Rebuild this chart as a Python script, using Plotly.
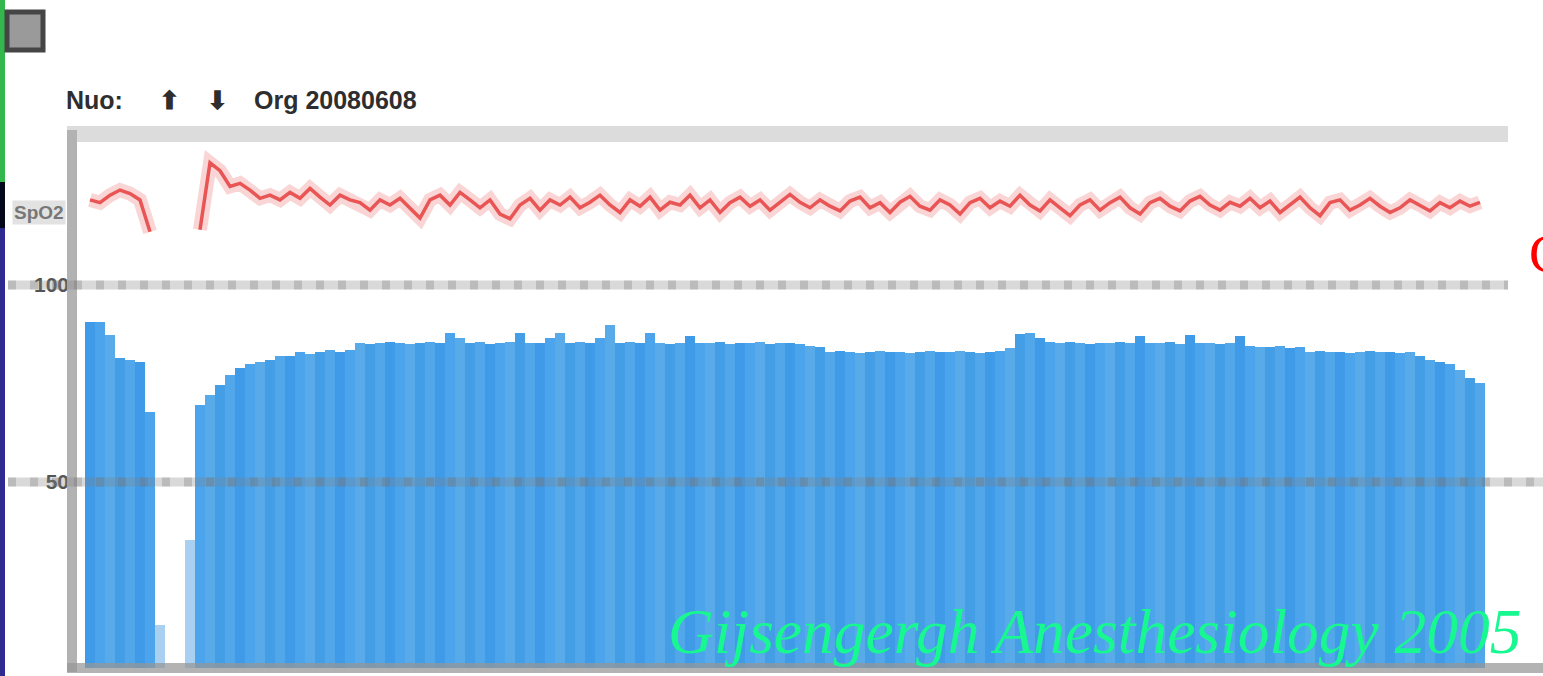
import plotly.graph_objects as go

# Pleth amplitude per beat column and the saturation trace above it
bar_values = [
    90.6, 90.6, 87.3, 81.5, 81.0, 80.5, 67.8, 13.7, 0, 0, 35.3,
    69.5, 72.1, 74.6, 77.2, 78.9, 79.9, 80.5, 81.0, 82.0, 82.0,
    83.0, 82.6, 83.0, 83.4, 83.0, 83.6,
    85.3, 85.0, 85.3, 85.6, 85.3, 85.0, 85.3, 85.6, 85.3,
    87.8, 86.5,
    85.3, 85.6, 85.0, 85.3, 85.6,
    87.8, 85.3, 85.3, 86.5, 87.8, 85.3, 85.6, 85.3, 86.5, 89.8,
    85.3, 85.6, 85.3, 87.8, 85.3, 85.0, 85.3, 87.0, 85.3,
    85.3, 85.6, 85.0, 85.3, 85.3, 85.6, 85.0, 85.3, 85.3, 85.0, 84.6, 84.3,
    83.0, 83.3, 83.0, 82.8, 83.0, 83.3, 83.0, 83.0, 82.8, 83.0,
    83.3, 83.0, 83.0, 83.3, 83.0, 82.8, 83.0, 83.3, 84.0,
    87.5, 87.8, 86.5,
    85.6, 85.3, 85.6, 85.3, 85.0, 85.3,
    85.3, 85.6, 85.3, 87.0, 85.3, 85.3, 85.6, 85.0, 87.3, 85.3, 85.3, 85.0, 85.3, 87.0,
    84.6, 84.3, 84.3, 84.6, 84.0, 84.3,
    83.0, 83.3, 83.0, 83.0, 82.8, 83.0, 83.3, 83.0, 83.0, 82.8, 83.0, 82.0,
    81.0, 80.5, 79.9, 78.4, 76.5, 75.1,
]

spo2_values = [
    121.6, 120.9, 122.8, 124.1, 123.2, 121.6, 113.5, None, None, None, None,
    114.0, 131.0, 129.0, 125.0, 125.8, 124.1, 122.0, 122.8, 121.6, 123.5,
    122.0, 124.5, 122.3, 120.3, 122.8, 121.6, 120.9, 119.0, 121.6, 120.3,
    122.0, 119.6, 117.0, 121.6, 122.8, 120.3, 123.5, 121.6, 119.6, 121.6,
    118.0, 116.8, 120.3, 122.0, 119.0, 121.6, 120.3, 122.3, 119.6, 121.0,
    122.8, 120.3, 118.4, 121.6, 120.0, 122.3, 119.0, 121.0, 120.3, 122.8,
    119.6, 121.6, 118.4, 120.9, 122.3, 120.0, 121.6, 119.0, 120.9, 123.0,
    121.0, 119.6, 121.6, 120.0, 118.8, 121.3, 122.3, 119.6, 120.9, 118.4,
    121.0, 122.5, 120.0, 119.0, 121.6, 120.3, 118.0, 120.9, 122.0, 119.6,
    121.3, 120.0, 122.8, 120.3, 118.8, 121.6, 119.6, 117.6, 120.3, 121.6,
    119.0, 120.9, 122.3, 119.6, 118.0, 120.9, 122.0, 120.0, 118.8, 121.3,
    122.5, 120.3, 119.0, 121.0, 120.0, 122.0, 119.6, 121.3, 118.4, 120.3,
    122.3, 119.6, 117.6, 120.9, 121.6, 119.0, 120.3, 122.0, 120.0, 118.4,
    119.6, 121.6, 120.3, 118.8, 120.9, 119.6, 121.3, 120.0, 121.0,
]

beats = list(range(len(bar_values)))

grid_values = [100, 50]
grid_labels = ["<b>100</b>", "<b>50</b>"]

W, H = 1543, 676
L, R, T, B = 70, 33, 140, 8
PW, PH = W - L - R, H - T - B


def px(x):
    return (x - L) / PW


def py(y):
    return (H - B - y) / PH


blues = ["#3f9ae8", "#4ba4ec", "#58aae8", "#449ee6", "#52a6ea"]
bar_colors = []
for i, v in enumerate(bar_values):
    if v < 40:
        bar_colors.append("#a9d0f0")
    else:
        bar_colors.append(blues[i % len(blues)])

fig = go.Figure()
fig.add_trace(go.Bar(
    x=beats, y=bar_values, width=1.0,
    marker=dict(color=bar_colors, line=dict(width=0)),
    showlegend=False, hoverinfo="skip",
))
fig.add_trace(go.Scatter(
    x=beats, y=spo2_values, mode="lines",
    line=dict(color="rgba(240,150,150,0.40)", width=14),
    connectgaps=False, showlegend=False, hoverinfo="skip",
))
fig.add_trace(go.Scatter(
    x=beats, y=spo2_values, mode="lines",
    line=dict(color="rgba(230,62,62,0.85)", width=3.5),
    connectgaps=False, showlegend=False, hoverinfo="skip",
))

shapes = []
# frame: top band, left axis
shapes.append(dict(type="rect", xref="paper", yref="paper",
                   x0=px(67), x1=px(1508), y0=py(142), y1=py(126),
                   fillcolor="#dcdcdc", line=dict(width=0), layer="below"))
shapes.append(dict(type="rect", xref="paper", yref="paper",
                   x0=px(67), x1=px(77), y0=py(672), y1=py(130),
                   fillcolor="#b2b2b2", line=dict(width=0), layer="above"))
# reference lines
for val, right in zip(grid_values, [1508, 1543]):
    shapes.append(dict(type="line", xref="paper", yref="y",
                       x0=px(8), x1=px(right), y0=val, y1=val,
                       line=dict(color="rgba(130,130,130,0.30)", width=9),
                       layer="above"))
    shapes.append(dict(type="line", xref="paper", yref="y",
                       x0=px(8), x1=px(right), y0=val, y1=val,
                       line=dict(color="rgba(110,110,110,0.28)", width=9, dash="8px,14px"),
                       layer="above"))
# bottom band
shapes.append(dict(type="rect", xref="paper", yref="paper",
                   x0=px(67), x1=px(1543), y0=py(673), y1=py(663),
                   fillcolor="rgba(150,150,150,0.72)", line=dict(width=0), layer="above"))
# left colour strip
shapes.append(dict(type="rect", xref="paper", yref="paper",
                   x0=px(0), x1=px(5), y0=py(182), y1=py(0),
                   fillcolor="#34b84e", line=dict(width=0)))
shapes.append(dict(type="rect", xref="paper", yref="paper",
                   x0=px(0), x1=px(5), y0=py(228), y1=py(182),
                   fillcolor="#05081a", line=dict(width=0)))
shapes.append(dict(type="rect", xref="paper", yref="paper",
                   x0=px(0), x1=px(5), y0=py(676), y1=py(228),
                   fillcolor="#2e2a8f", line=dict(width=0)))
# window icon
shapes.append(dict(type="rect", xref="paper", yref="paper",
                   x0=px(7), x1=px(43), y0=py(50), y1=py(12),
                   fillcolor="#9a9a9a", line=dict(color="#454545", width=5)))

head_font = dict(family="Liberation Sans, Arial", size=25, color="#2e2e2e")
annotations = [
    dict(text="<b>Nuo:</b>", xref="paper", yref="paper",
         x=px(64), y=py(100), xanchor="left", yanchor="middle", showarrow=False,
         font=head_font),
    dict(text="<b>⬆</b>", xref="paper", yref="paper",
         x=px(157), y=py(100), xanchor="left", yanchor="middle", showarrow=False,
         font=head_font),
    dict(text="<b>⬇</b>", xref="paper", yref="paper",
         x=px(205), y=py(100), xanchor="left", yanchor="middle", showarrow=False,
         font=head_font),
    dict(text="<b>Org 20080608</b>", xref="paper", yref="paper",
         x=px(252), y=py(100), xanchor="left", yanchor="middle", showarrow=False,
         font=head_font),
    dict(text="<b>SpO2</b>", xref="paper", yref="paper",
         x=px(66), y=py(212), xanchor="right", yanchor="middle", showarrow=False,
         bgcolor="#e2e2e2",
         font=dict(family="Liberation Sans, Arial", size=19, color="#777777")),
    dict(text="C", xref="paper", yref="paper",
         x=px(1527), y=py(254), xanchor="left", yanchor="middle", showarrow=False,
         font=dict(family="Liberation Serif, Times New Roman", size=54, color="#ff0000")),
    dict(text="Gijsengergh Anesthesiology 2005", xref="paper", yref="paper",
         x=px(666), y=py(631), xanchor="left", yanchor="middle", showarrow=False,
         font=dict(family="Liberation Serif, Times New Roman", size=63.5,
                   color="#18f890", style="italic")),
]

fig.update_layout(
    width=W, height=H,
    margin=dict(l=L, r=R, t=T, b=B),
    paper_bgcolor="white", plot_bgcolor="white",
    bargap=0,
    xaxis=dict(range=[-2, 142], visible=False),
    yaxis=dict(range=[100 - (H - B - 285) / 3.94, 100 + (285 - T) / 3.94],
               tickvals=grid_values, ticktext=grid_labels, ticks="",
               showgrid=False, zeroline=False, showline=False,
               tickfont=dict(family="Liberation Sans, Arial", size=21, color="#555555")),
    shapes=shapes,
    annotations=annotations,
)

fig.write_html("out.html")
